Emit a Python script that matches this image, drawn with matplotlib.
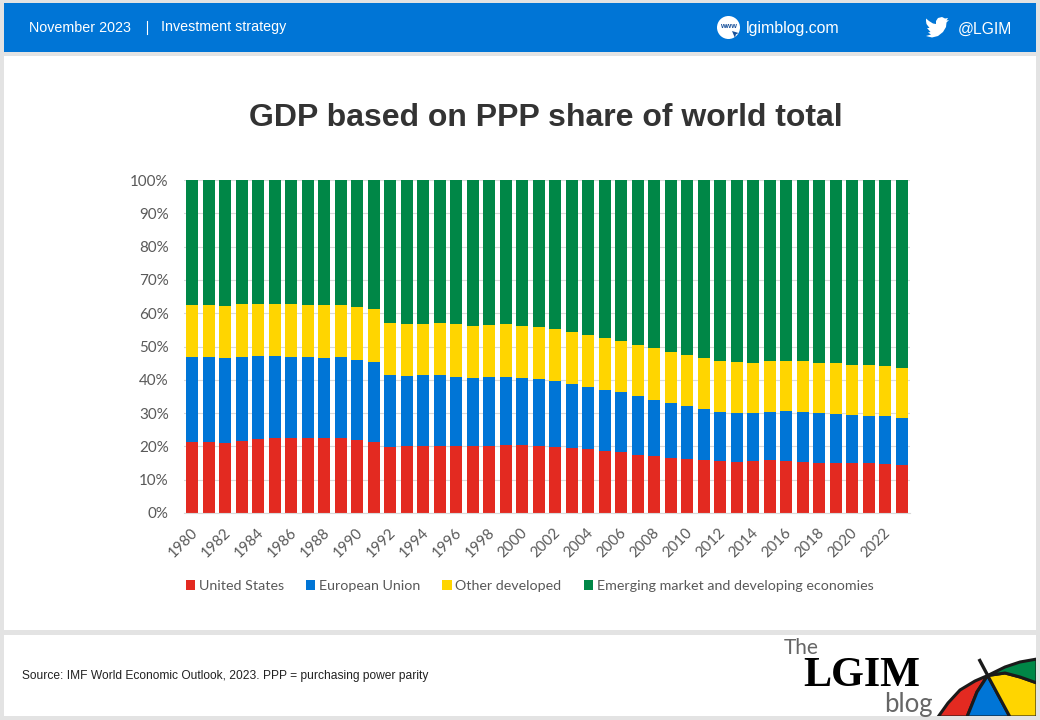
import matplotlib
matplotlib.use("Agg")
import matplotlib.pyplot as plt
from matplotlib.patches import Rectangle, Circle, Polygon
from matplotlib.transforms import ScaledTranslation
import numpy as np

years = list(range(1980, 2024))
united_states = [21.2, 21.3, 20.9, 21.5, 22.1, 22.4, 22.4, 22.4, 22.4, 22.4, 22.0, 21.4,
                 19.8, 20.0, 20.2, 20.0, 20.0, 20.0, 20.2, 20.3, 20.3, 20.0, 19.7, 19.4,
                 19.1, 18.7, 18.4, 17.5, 17.1, 16.6, 16.1, 15.8, 15.5, 15.3, 15.5, 15.8,
                 15.5, 15.3, 15.1, 15.1, 15.1, 14.9, 14.8, 14.5]
european_union = [25.7, 25.6, 25.6, 25.4, 25.0, 24.7, 24.5, 24.3, 24.1, 24.3, 23.9, 23.9,
                  21.5, 21.1, 21.1, 21.3, 20.8, 20.4, 20.6, 20.5, 20.1, 20.2, 19.9, 19.2,
                  18.8, 18.3, 17.8, 17.5, 16.9, 16.4, 15.9, 15.4, 14.9, 14.6, 14.4, 14.6,
                  15.1, 15.1, 14.8, 14.6, 14.3, 14.3, 14.2, 14.1]
other_developed = [15.6, 15.6, 15.8, 15.8, 15.8, 15.8, 15.8, 15.8, 16.0, 15.8, 16.0, 16.0,
                   15.8, 15.8, 15.6, 15.8, 15.9, 15.9, 15.7, 15.9, 15.9, 15.7, 15.7, 15.7,
                   15.6, 15.5, 15.5, 15.5, 15.5, 15.3, 15.3, 15.3, 15.3, 15.4, 15.2, 15.3,
                   15.1, 15.1, 15.2, 15.2, 15.1, 15.1, 15.1, 14.9]
emerging = [37.5, 37.5, 37.7, 37.3, 37.1, 37.1, 37.3, 37.5, 37.5, 37.5, 38.1, 38.7,
            42.9, 43.1, 43.1, 42.9, 43.3, 43.7, 43.5, 43.3, 43.7, 44.1, 44.7, 45.7,
            46.5, 47.5, 48.3, 49.5, 50.5, 51.7, 52.7, 53.5, 54.3, 54.7, 54.9, 54.3,
            54.3, 54.5, 54.9, 55.1, 55.5, 55.7, 55.9, 56.5]
series_names = ["United States", "European Union", "Other developed",
                "Emerging market and developing economies"]
y_ticks = [0, 10, 20, 30, 40, 50, 60, 70, 80, 90, 100]

RED, BLUE, YELLOW, GREEN = "#e32a21", "#0075d6", "#ffd500", "#008747"
GREY_BG = "#e3e3e3"
W, H = 1040, 720

fig = plt.figure(figsize=(W / 100, H / 100), dpi=100, facecolor=GREY_BG)

# page furniture, drawn in pixel coordinates
bg = fig.add_axes([0, 0, 1, 1], zorder=0)
bg.set_xlim(0, W)
bg.set_ylim(H, 0)
bg.axis("off")
bg.add_patch(Rectangle((4, 3), 1032, 49, fc=BLUE, ec="none"))
bg.add_patch(Rectangle((4, 56), 1032, 574, fc="white", ec="none"))
footer = Rectangle((4, 635), 1032, 81, fc="white", ec="none")
bg.add_patch(footer)

hdr = dict(family="Liberation Sans", color="white", fontsize=10.25, va="center")
bg.text(29, 27.5, "November 2023", **hdr)
bg.plot([147, 147], [21, 34], color="white", lw=0.8)
bg.text(161, 27.5, "Investment strategy", **hdr)
bg.text(746, 28.5, "lgimblog.com", **{**hdr, "fontsize": 11.4})
bg.text(958, 29, "@LGIM", **{**hdr, "fontsize": 11.3})

# www icon
bg.add_patch(Circle((728.5, 27.5), 11.5, fc="white", ec="none"))
bg.text(728, 26.5, "www", family="Liberation Sans", color="#17509a", fontsize=5.2,
        fontweight="bold", ha="center", va="center")
bg.add_patch(Polygon([(732, 31), (738.5, 33), (735.8, 34.5), (735, 38)], fc="#17509a", ec="none"))

# bird icon
bird = [(926, 18.5), (929, 21), (933, 23.5), (936, 24), (936, 21), (938, 18), (942, 17),
        (945, 18.5), (948, 18), (946.5, 20.5), (949, 20), (946.5, 22.5), (946, 27),
        (943, 32), (938, 36), (932, 37.5), (926, 36), (931, 34.5), (928, 32.5),
        (930.5, 32), (927, 28), (929.5, 28), (926.5, 24), (926, 21)]
bg.add_patch(Polygon(bird, fc="white", ec="none"))

bg.text(22, 675.5, "Source: IMF World Economic Outlook, 2023. PPP = purchasing power parity",
        family="Liberation Sans", color="#222222", fontsize=8.68, va="center")

# title
bg.text(545.5, 118.5, "GDP based on PPP share of world total", family="Liberation Sans",
        fontweight="bold", color="#333333", fontsize=23, ha="center", va="center")

# logo
bg.text(784, 648.5, "The", family="Lato", color="#666666", fontsize=15, va="center")
bg.text(803, 675.5, "LGIM", family="Liberation Serif", fontweight="bold", color="black",
        fontsize=30.3, va="center")
bg.text(884, 704.5, "blog", family="Lato", color="#666666", fontsize=18.5, va="center")

# umbrella
apex = (987.7, 675.5)
arc_left = [(938, 717), (948, 703), (960, 690), (975, 681)]
arc_right = [(1005, 667), (1020, 662), (1037, 659)]
rib_green = [(1005, 673), (1020, 677), (1037, 683)]
rib_blue_l = [(977, 692), (967, 717)]
rib_blue_r = [(1010, 717)]
umb = dict(ec="#1a1a1a", lw=2.2, joinstyle="round")
umbrella_parts = [
    (RED, [apex] + arc_left[::-1] + rib_blue_l[::-1]),
    (BLUE, [apex] + rib_blue_l + rib_blue_r),
    (YELLOW, [apex] + rib_blue_r + [(1037, 717)] + rib_green[::-1]),
    (GREEN, [apex] + rib_green + arc_right[::-1]),
]
for col, pts in umbrella_parts:
    p = Polygon(pts, fc=col, **umb)
    bg.add_patch(p)
    p.set_clip_path(footer)
bg.plot([979, 988], [659, 676], color="#1a1a1a", lw=2.4, solid_capstyle="butt")

# chart
ax = fig.add_axes([184 / W, 1 - 513 / H, 726 / W, 333 / H], zorder=1)
ax.patch.set_alpha(0)
x = np.arange(len(years))
bottom = np.zeros(len(years))
for vals, col, name in zip([united_states, european_union, other_developed, emerging],
                           [RED, BLUE, YELLOW, GREEN], series_names):
    ax.bar(x, vals, 0.75, bottom=bottom, color=col, label=name, zorder=2)
    bottom = bottom + np.array(vals)
ax.set_xlim(-0.5, len(years) - 0.5)
ax.set_ylim(0, 100)
ax.set_yticks(y_ticks)
ax.set_yticklabels([f"{v}%" for v in y_ticks], family="Lato", fontsize=10.9, color="#595959")
ax.set_xticks(x[::2])
ax.set_xticklabels(years[::2], family="Lato", fontsize=10.8, color="#595959", rotation=45,
                   ha="right", rotation_mode="anchor")
ax.tick_params(axis="y", length=0, pad=11)
ax.tick_params(axis="x", length=0, pad=9)
shift = ScaledTranslation(-2 / 100, 0, fig.dpi_scale_trans)
for lab in ax.get_xticklabels():
    lab.set_transform(lab.get_transform() + shift)
ax.grid(axis="y", color="#d9d9d9", lw=0.8, zorder=0)
ax.set_axisbelow(True)
for s in ["top", "right", "left"]:
    ax.spines[s].set_visible(False)
ax.spines["bottom"].set_color("#d9d9d9")
ax.spines["bottom"].set_linewidth(0.8)

fig.legend(*ax.get_legend_handles_labels(), loc="center", ncol=4, frameon=False,
           bbox_to_anchor=(529.5 / W, 1 - 586 / H),
           prop={"family": "Lato", "size": 10.25}, labelcolor="#595959",
           handlelength=0.66, handleheight=0.72, handletextpad=0.26, columnspacing=1.55)

fig.savefig("out.png", dpi=100, facecolor=fig.get_facecolor())
